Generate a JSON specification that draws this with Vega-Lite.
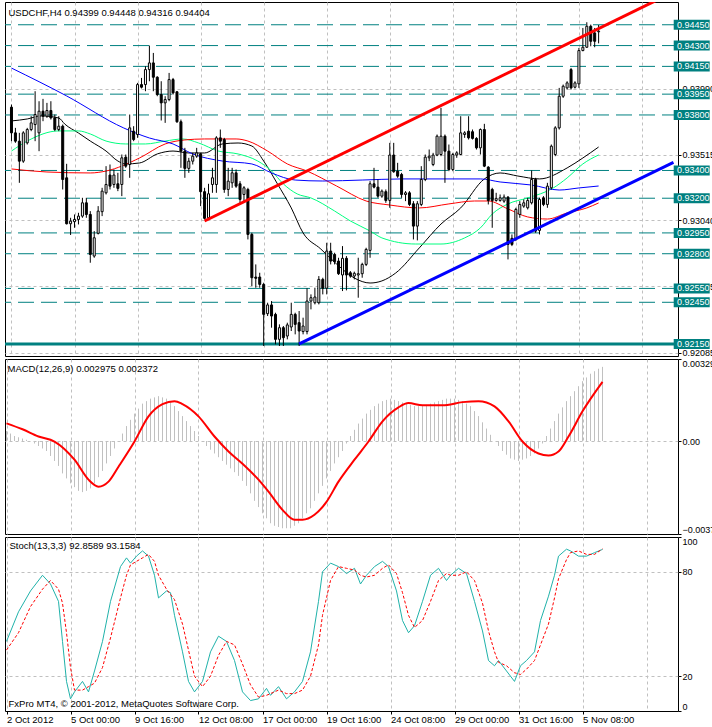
{
  "$schema": "https://vega.github.io/schema/vega-lite/v6.json",
  "padding": {"left": 2, "top": 1, "right": 0, "bottom": 0},
  "background": "white",
  "spacing": 3,
  "bounds": "flush",
  "config": {
    "font": "Liberation Sans",
    "view": {"stroke": "black", "strokeWidth": 1},
    "axis": {"labelFont": "Liberation Sans", "labelFontSize": 9, "labelColor": "black", "tickColor": "black", "domain": false, "gridColor": "#C0C0C0", "gridDash": [3, 3], "gridWidth": 1, "labelPadding": 1, "tickSize": 3},
    "title": {"font": "Liberation Sans", "fontSize": 9.5, "fontWeight": "normal", "color": "black", "anchor": "start", "offset": -15, "dx": 5}
  },
  "datasets": {
    "candles": [
      {"i":0,"o":0.93856,"h":0.93875,"l":0.93611,"c":0.93671},
      {"i":1,"o":0.93671,"h":0.93707,"l":0.93599,"c":0.93611},
      {"i":2,"o":0.93611,"h":0.93671,"l":0.93311,"c":0.93467},
      {"i":3,"o":0.93467,"h":0.93683,"l":0.93455,"c":0.93671},
      {"i":4,"o":0.93599,"h":0.93707,"l":0.93587,"c":0.93695},
      {"i":5,"o":0.93695,"h":0.93791,"l":0.93683,"c":0.93743},
      {"i":6,"o":0.93731,"h":0.93971,"l":0.93611,"c":0.93803},
      {"i":7,"o":0.93671,"h":0.93899,"l":0.93539,"c":0.93827},
      {"i":8,"o":0.93827,"h":0.93916,"l":0.93755,"c":0.93791},
      {"i":9,"o":0.93791,"h":0.93887,"l":0.93779,"c":0.93832},
      {"i":10,"o":0.93832,"h":0.93899,"l":0.93767,"c":0.93779},
      {"i":11,"o":0.93779,"h":0.93803,"l":0.93683,"c":0.93695},
      {"i":12,"o":0.93695,"h":0.93791,"l":0.93683,"c":0.93719},
      {"i":13,"o":0.93719,"h":0.93731,"l":0.93263,"c":0.93335},
      {"i":14,"o":0.93347,"h":0.93448,"l":0.93011,"c":0.93016},
      {"i":15,"o":0.93016,"h":0.93059,"l":0.92935,"c":0.93035},
      {"i":16,"o":0.93031,"h":0.93083,"l":0.92987,"c":0.93047},
      {"i":17,"o":0.93047,"h":0.93095,"l":0.93011,"c":0.93071},
      {"i":18,"o":0.93071,"h":0.93203,"l":0.93059,"c":0.93167},
      {"i":19,"o":0.93167,"h":0.93203,"l":0.93059,"c":0.93083},
      {"i":20,"o":0.93083,"h":0.93107,"l":0.92735,"c":0.92795},
      {"i":21,"o":0.92783,"h":0.92963,"l":0.92771,"c":0.92915},
      {"i":22,"o":0.92947,"h":0.93143,"l":0.92939,"c":0.93107},
      {"i":23,"o":0.93103,"h":0.93275,"l":0.93071,"c":0.93251},
      {"i":24,"o":0.93239,"h":0.93431,"l":0.93227,"c":0.93299},
      {"i":25,"o":0.93367,"h":0.93443,"l":0.93263,"c":0.93287},
      {"i":26,"o":0.93299,"h":0.93407,"l":0.93275,"c":0.93367},
      {"i":27,"o":0.93304,"h":0.93383,"l":0.93251,"c":0.93271},
      {"i":28,"o":0.93299,"h":0.93515,"l":0.93215,"c":0.93491},
      {"i":29,"o":0.93496,"h":0.93515,"l":0.93419,"c":0.93431},
      {"i":30,"o":0.93443,"h":0.93803,"l":0.93347,"c":0.93707},
      {"i":31,"o":0.93683,"h":0.93719,"l":0.93611,"c":0.93623},
      {"i":32,"o":0.93659,"h":0.94031,"l":0.93635,"c":0.94019},
      {"i":33,"o":0.94019,"h":0.94067,"l":0.93991,"c":0.94000},
      {"i":34,"o":0.94019,"h":0.94151,"l":0.93971,"c":0.94127},
      {"i":35,"o":0.94127,"h":0.94300,"l":0.94043,"c":0.94175},
      {"i":36,"o":0.94175,"h":0.94247,"l":0.93971,"c":0.94072},
      {"i":37,"o":0.94072,"h":0.94079,"l":0.93935,"c":0.93947},
      {"i":38,"o":0.93947,"h":0.94043,"l":0.93760,"c":0.93887},
      {"i":39,"o":0.93887,"h":0.93935,"l":0.93743,"c":0.93911},
      {"i":40,"o":0.93911,"h":0.94103,"l":0.93899,"c":0.94055},
      {"i":41,"o":0.94055,"h":0.94067,"l":0.93947,"c":0.93959},
      {"i":42,"o":0.93967,"h":0.93971,"l":0.93743,"c":0.93751},
      {"i":43,"o":0.93751,"h":0.93767,"l":0.93419,"c":0.93539},
      {"i":44,"o":0.93539,"h":0.93563,"l":0.93347,"c":0.93415},
      {"i":45,"o":0.93415,"h":0.93491,"l":0.93383,"c":0.93467},
      {"i":46,"o":0.93467,"h":0.93527,"l":0.93443,"c":0.93503},
      {"i":47,"o":0.93503,"h":0.93563,"l":0.93491,"c":0.93527},
      {"i":48,"o":0.93520,"h":0.93527,"l":0.93143,"c":0.93247},
      {"i":49,"o":0.93247,"h":0.93275,"l":0.93047,"c":0.93055},
      {"i":50,"o":0.93059,"h":0.93304,"l":0.93047,"c":0.93232},
      {"i":51,"o":0.93299,"h":0.93419,"l":0.93239,"c":0.93347},
      {"i":52,"o":0.93299,"h":0.93647,"l":0.93239,"c":0.93635},
      {"i":53,"o":0.93635,"h":0.93695,"l":0.93563,"c":0.93611},
      {"i":54,"o":0.93623,"h":0.93635,"l":0.93239,"c":0.93263},
      {"i":55,"o":0.93263,"h":0.93419,"l":0.93215,"c":0.93323},
      {"i":56,"o":0.93311,"h":0.93419,"l":0.93275,"c":0.93383},
      {"i":57,"o":0.93383,"h":0.93407,"l":0.93275,"c":0.93287},
      {"i":58,"o":0.93304,"h":0.93323,"l":0.93155,"c":0.93191},
      {"i":59,"o":0.93227,"h":0.93287,"l":0.93179,"c":0.93275},
      {"i":60,"o":0.93263,"h":0.93275,"l":0.92903,"c":0.92939},
      {"i":61,"o":0.92939,"h":0.92951,"l":0.92567,"c":0.92627},
      {"i":62,"o":0.92632,"h":0.92723,"l":0.92555,"c":0.92623},
      {"i":63,"o":0.92632,"h":0.92663,"l":0.92555,"c":0.92579},
      {"i":64,"o":0.92579,"h":0.92591,"l":0.92135,"c":0.92363},
      {"i":65,"o":0.92368,"h":0.92447,"l":0.92351,"c":0.92431},
      {"i":66,"o":0.92431,"h":0.92459,"l":0.92267,"c":0.92351},
      {"i":67,"o":0.92363,"h":0.92375,"l":0.92147,"c":0.92183},
      {"i":68,"o":0.92183,"h":0.92291,"l":0.92135,"c":0.92267},
      {"i":69,"o":0.92267,"h":0.92279,"l":0.92135,"c":0.92195},
      {"i":70,"o":0.92207,"h":0.92303,"l":0.92183,"c":0.92287},
      {"i":71,"o":0.92272,"h":0.92447,"l":0.92243,"c":0.92363},
      {"i":72,"o":0.92363,"h":0.92375,"l":0.92219,"c":0.92291},
      {"i":73,"o":0.92303,"h":0.92387,"l":0.92135,"c":0.92243},
      {"i":74,"o":0.92239,"h":0.92339,"l":0.92219,"c":0.92279},
      {"i":75,"o":0.92239,"h":0.92551,"l":0.92219,"c":0.92459},
      {"i":76,"o":0.92459,"h":0.92507,"l":0.92399,"c":0.92483},
      {"i":77,"o":0.92447,"h":0.92555,"l":0.92435,"c":0.92488},
      {"i":78,"o":0.92447,"h":0.92639,"l":0.92435,"c":0.92615},
      {"i":79,"o":0.92615,"h":0.92627,"l":0.92507,"c":0.92551},
      {"i":80,"o":0.92551,"h":0.92879,"l":0.92507,"c":0.92819},
      {"i":81,"o":0.92819,"h":0.92879,"l":0.92723,"c":0.92747},
      {"i":82,"o":0.92795,"h":0.92807,"l":0.92723,"c":0.92743},
      {"i":83,"o":0.92747,"h":0.92771,"l":0.92647,"c":0.92656},
      {"i":84,"o":0.92647,"h":0.92855,"l":0.92531,"c":0.92767},
      {"i":85,"o":0.92767,"h":0.92783,"l":0.92536,"c":0.92647},
      {"i":86,"o":0.92663,"h":0.92675,"l":0.92627,"c":0.92639},
      {"i":87,"o":0.92639,"h":0.92671,"l":0.92615,"c":0.92659},
      {"i":88,"o":0.92647,"h":0.92771,"l":0.92483,"c":0.92656},
      {"i":89,"o":0.92656,"h":0.92735,"l":0.92627,"c":0.92723},
      {"i":90,"o":0.92723,"h":0.92843,"l":0.92711,"c":0.92831},
      {"i":91,"o":0.92824,"h":0.93323,"l":0.92771,"c":0.93304},
      {"i":92,"o":0.93304,"h":0.93419,"l":0.93271,"c":0.93280},
      {"i":93,"o":0.93280,"h":0.93335,"l":0.93203,"c":0.93215},
      {"i":94,"o":0.93215,"h":0.93263,"l":0.93203,"c":0.93251},
      {"i":95,"o":0.93247,"h":0.93263,"l":0.93167,"c":0.93184},
      {"i":96,"o":0.93184,"h":0.93599,"l":0.93131,"c":0.93511},
      {"i":97,"o":0.93511,"h":0.93599,"l":0.93383,"c":0.93391},
      {"i":98,"o":0.93395,"h":0.93455,"l":0.93347,"c":0.93359},
      {"i":99,"o":0.93371,"h":0.93383,"l":0.93203,"c":0.93227},
      {"i":100,"o":0.93227,"h":0.93251,"l":0.93179,"c":0.93239},
      {"i":101,"o":0.93239,"h":0.93251,"l":0.93143,"c":0.93155},
      {"i":102,"o":0.93160,"h":0.93179,"l":0.92903,"c":0.92999},
      {"i":103,"o":0.92999,"h":0.93179,"l":0.92896,"c":0.93160},
      {"i":104,"o":0.93155,"h":0.93431,"l":0.93143,"c":0.93335},
      {"i":105,"o":0.93335,"h":0.93515,"l":0.93323,"c":0.93496},
      {"i":106,"o":0.93491,"h":0.93551,"l":0.93467,"c":0.93503},
      {"i":107,"o":0.93443,"h":0.93527,"l":0.93431,"c":0.93511},
      {"i":108,"o":0.93511,"h":0.93659,"l":0.93503,"c":0.93647},
      {"i":109,"o":0.93515,"h":0.93851,"l":0.93503,"c":0.93647},
      {"i":110,"o":0.93647,"h":0.93659,"l":0.93311,"c":0.93539},
      {"i":111,"o":0.93539,"h":0.93587,"l":0.93395,"c":0.93407},
      {"i":112,"o":0.93407,"h":0.93527,"l":0.93395,"c":0.93515},
      {"i":113,"o":0.93511,"h":0.93539,"l":0.93491,"c":0.93527},
      {"i":114,"o":0.93515,"h":0.93791,"l":0.93511,"c":0.93671},
      {"i":115,"o":0.93659,"h":0.93683,"l":0.93635,"c":0.93671},
      {"i":116,"o":0.93683,"h":0.93791,"l":0.93623,"c":0.93635},
      {"i":117,"o":0.93679,"h":0.93695,"l":0.93623,"c":0.93631},
      {"i":118,"o":0.93631,"h":0.93640,"l":0.93551,"c":0.93563},
      {"i":119,"o":0.93563,"h":0.93703,"l":0.93515,"c":0.93695},
      {"i":120,"o":0.93695,"h":0.93736,"l":0.93424,"c":0.93431},
      {"i":121,"o":0.93424,"h":0.93431,"l":0.93155,"c":0.93184},
      {"i":122,"o":0.93263,"h":0.93275,"l":0.92987,"c":0.93184},
      {"i":123,"o":0.93184,"h":0.93239,"l":0.93175,"c":0.93199},
      {"i":124,"o":0.93184,"h":0.93227,"l":0.93175,"c":0.93203},
      {"i":125,"o":0.93179,"h":0.93227,"l":0.93167,"c":0.93208},
      {"i":126,"o":0.93208,"h":0.93215,"l":0.92759,"c":0.92867},
      {"i":127,"o":0.92911,"h":0.92939,"l":0.92855,"c":0.92867},
      {"i":128,"o":0.92903,"h":0.93131,"l":0.92891,"c":0.93119},
      {"i":129,"o":0.93083,"h":0.93179,"l":0.93059,"c":0.93155},
      {"i":130,"o":0.93143,"h":0.93191,"l":0.93131,"c":0.93167},
      {"i":131,"o":0.93131,"h":0.93203,"l":0.93119,"c":0.93184},
      {"i":132,"o":0.93167,"h":0.93400,"l":0.93155,"c":0.93335},
      {"i":133,"o":0.93335,"h":0.93347,"l":0.92951,"c":0.92963},
      {"i":134,"o":0.92968,"h":0.93203,"l":0.92939,"c":0.93191},
      {"i":135,"o":0.93203,"h":0.93215,"l":0.93143,"c":0.93155},
      {"i":136,"o":0.93155,"h":0.93311,"l":0.93131,"c":0.93287},
      {"i":137,"o":0.93275,"h":0.93587,"l":0.93263,"c":0.93575},
      {"i":138,"o":0.93515,"h":0.93719,"l":0.93503,"c":0.93707},
      {"i":139,"o":0.93707,"h":0.93995,"l":0.93695,"c":0.93935},
      {"i":140,"o":0.93935,"h":0.94019,"l":0.93923,"c":0.94007},
      {"i":141,"o":0.93995,"h":0.94043,"l":0.93983,"c":0.94031},
      {"i":142,"o":0.94127,"h":0.94139,"l":0.93983,"c":0.93995},
      {"i":143,"o":0.94000,"h":0.94043,"l":0.93991,"c":0.94031},
      {"i":144,"o":0.94024,"h":0.94283,"l":0.93995,"c":0.94264},
      {"i":145,"o":0.94264,"h":0.94427,"l":0.94259,"c":0.94288},
      {"i":146,"o":0.94288,"h":0.94468,"l":0.94283,"c":0.94439},
      {"i":147,"o":0.94439,"h":0.94451,"l":0.94295,"c":0.94331},
      {"i":148,"o":0.94391,"h":0.94427,"l":0.94288,"c":0.94331},
      {"i":149,"o":0.94399,"h":0.94448,"l":0.94316,"c":0.94404}
    ],
    "ma": [
      {"ma":"fast","i":0,"v":0.93757},{"ma":"fast","i":4,"v":0.93771},{"ma":"fast","i":7.5,"v":0.93793},{"ma":"fast","i":12,"v":0.93778},{"ma":"fast","i":13.5,"v":0.93735},{"ma":"fast","i":17,"v":0.9367},{"ma":"fast","i":20,"v":0.93612},{"ma":"fast","i":24,"v":0.9354},{"ma":"fast","i":27,"v":0.93468},{"ma":"fast","i":29,"v":0.93447},{"ma":"fast","i":32.5,"v":0.93454},{"ma":"fast","i":37,"v":0.93519},{"ma":"fast","i":41,"v":0.9354},{"ma":"fast","i":45,"v":0.93526},{"ma":"fast","i":49,"v":0.93526},{"ma":"fast","i":53.5,"v":0.93591},{"ma":"fast","i":57.5,"v":0.93598},{"ma":"fast","i":61,"v":0.93576},{"ma":"fast","i":64,"v":0.93468},{"ma":"fast","i":67.5,"v":0.93303},{"ma":"fast","i":71,"v":0.9313},{"ma":"fast","i":74,"v":0.9295},{"ma":"fast","i":78.5,"v":0.92834},{"ma":"fast","i":82.5,"v":0.92726},{"ma":"fast","i":87,"v":0.92625},{"ma":"fast","i":91,"v":0.92589},{"ma":"fast","i":94,"v":0.92604},{"ma":"fast","i":97.5,"v":0.92661},{"ma":"fast","i":103.5,"v":0.92842},{"ma":"fast","i":109,"v":0.93014},{"ma":"fast","i":114,"v":0.9313},{"ma":"fast","i":120,"v":0.93339},{"ma":"fast","i":124,"v":0.93382},{"ma":"fast","i":128.5,"v":0.9336},{"ma":"fast","i":134,"v":0.93339},{"ma":"fast","i":141,"v":0.93418},{"ma":"fast","i":145,"v":0.9349},{"ma":"fast","i":149,"v":0.93569},
      {"ma":"mid","i":0,"v":0.9354},{"ma":"mid","i":4,"v":0.93612},{"ma":"mid","i":12,"v":0.93685},{"ma":"mid","i":17,"v":0.93685},{"ma":"mid","i":20,"v":0.93663},{"ma":"mid","i":24,"v":0.93612},{"ma":"mid","i":29,"v":0.93591},{"ma":"mid","i":34,"v":0.93591},{"ma":"mid","i":39,"v":0.93612},{"ma":"mid","i":43.5,"v":0.93627},{"ma":"mid","i":47.5,"v":0.93598},{"ma":"mid","i":52.5,"v":0.9354},{"ma":"mid","i":57.5,"v":0.93519},{"ma":"mid","i":62.5,"v":0.93468},{"ma":"mid","i":66,"v":0.93396},{"ma":"mid","i":69,"v":0.93303},{"ma":"mid","i":72.5,"v":0.93231},{"ma":"mid","i":76,"v":0.93202},{"ma":"mid","i":82,"v":0.93108},{"ma":"mid","i":86,"v":0.93036},{"ma":"mid","i":91,"v":0.92964},{"ma":"mid","i":94,"v":0.92914},{"ma":"mid","i":102.5,"v":0.9287},{"ma":"mid","i":109,"v":0.9287},{"ma":"mid","i":115,"v":0.92914},{"ma":"mid","i":119,"v":0.92986},{"ma":"mid","i":122,"v":0.93086},{"ma":"mid","i":126,"v":0.93159},{"ma":"mid","i":131,"v":0.93202},{"ma":"mid","i":137.5,"v":0.93274},{"ma":"mid","i":141,"v":0.93346},{"ma":"mid","i":145,"v":0.93447},{"ma":"mid","i":149,"v":0.93512},
      {"ma":"slow","i":0,"v":0.93411},{"ma":"slow","i":9,"v":0.93389},{"ma":"slow","i":20,"v":0.93382},{"ma":"slow","i":24,"v":0.93396},{"ma":"slow","i":32.5,"v":0.9349},{"ma":"slow","i":39,"v":0.93591},{"ma":"slow","i":44,"v":0.9362},{"ma":"slow","i":49,"v":0.93627},{"ma":"slow","i":57,"v":0.93627},{"ma":"slow","i":60,"v":0.93612},{"ma":"slow","i":65,"v":0.9354},{"ma":"slow","i":70,"v":0.93447},{"ma":"slow","i":75,"v":0.93396},{"ma":"slow","i":82.5,"v":0.93288},{"ma":"slow","i":90,"v":0.9318},{"ma":"slow","i":96,"v":0.93151},{"ma":"slow","i":103.5,"v":0.9313},{"ma":"slow","i":111,"v":0.93159},{"ma":"slow","i":117.5,"v":0.9318},{"ma":"slow","i":121,"v":0.9318},{"ma":"slow","i":126,"v":0.93123},{"ma":"slow","i":131,"v":0.93065},{"ma":"slow","i":136,"v":0.9305},{"ma":"slow","i":141,"v":0.93094},{"ma":"slow","i":146,"v":0.9313},{"ma":"slow","i":149,"v":0.93166},
      {"ma":"long","i":0,"v":0.94138},{"ma":"long","i":14,"v":0.93937},{"ma":"long","i":28.5,"v":0.93706},{"ma":"long","i":35,"v":0.93634},{"ma":"long","i":41,"v":0.93591},{"ma":"long","i":46,"v":0.93519},{"ma":"long","i":53.5,"v":0.93468},{"ma":"long","i":61,"v":0.93447},{"ma":"long","i":66,"v":0.93382},{"ma":"long","i":72,"v":0.93331},{"ma":"long","i":79,"v":0.93324},{"ma":"long","i":89,"v":0.93331},{"ma":"long","i":99,"v":0.93339},{"ma":"long","i":109,"v":0.93339},{"ma":"long","i":119,"v":0.93339},{"ma":"long","i":124,"v":0.93317},{"ma":"long","i":132,"v":0.93295},{"ma":"long","i":139,"v":0.93259},{"ma":"long","i":144,"v":0.93274},{"ma":"long","i":149,"v":0.93288}
    ],
    "trend": [
      {"t":"resistance","i":49,"p":0.93036},{"t":"resistance","i":168,"p":0.94686},
      {"t":"support","i":73,"p":0.9215},{"t":"support","i":168,"p":0.93458}
    ],
    "levels": [
      {"p":0.9445},{"p":0.943},{"p":0.9415},{"p":0.9395},{"p":0.938},{"p":0.934},{"p":0.932},{"p":0.9295},{"p":0.928},{"p":0.9255},{"p":0.9245},{"p":0.9215}
    ],
    "macd": [
      {"i":0,"m":0.0004},{"i":1,"m":0.0003},{"i":2,"m":0.0002},{"i":3,"m":0.00015},{"i":4,"m":0.0001},{"i":5,"m":0.00005},{"i":6,"m":0.0},{"i":7,"m":-0.0001},{"i":8,"m":-0.0002},{"i":9,"m":-0.0003},
      {"i":10,"m":-0.0004},{"i":11,"m":-0.0006},{"i":12,"m":-0.0008},{"i":13,"m":-0.001},{"i":14,"m":-0.0013},{"i":15,"m":-0.0015},{"i":16,"m":-0.0017},{"i":17,"m":-0.00185},{"i":18,"m":-0.002},{"i":19,"m":-0.00205},
      {"i":20,"m":-0.002},{"i":21,"m":-0.0019},{"i":22,"m":-0.0017},{"i":23,"m":-0.00145},{"i":24,"m":-0.0012},{"i":25,"m":-0.0009},{"i":26,"m":-0.0006},{"i":27,"m":-0.0003},{"i":28,"m":0.0},{"i":29,"m":0.0003},
      {"i":30,"m":0.0006},{"i":31,"m":0.00085},{"i":32,"m":0.0011},{"i":33,"m":0.0013},{"i":34,"m":0.0015},{"i":35,"m":0.0016},{"i":36,"m":0.0017},{"i":37,"m":0.00175},{"i":38,"m":0.0018},{"i":39,"m":0.00175},
      {"i":40,"m":0.0017},{"i":41,"m":0.00155},{"i":42,"m":0.0014},{"i":43,"m":0.0012},{"i":44,"m":0.001},{"i":45,"m":0.0008},{"i":46,"m":0.0006},{"i":47,"m":0.0004},{"i":48,"m":0.0002},{"i":49,"m":0.0},
      {"i":50,"m":-0.0002},{"i":51,"m":-0.00035},{"i":52,"m":-0.0005},{"i":53,"m":-0.00065},{"i":54,"m":-0.0008},{"i":55,"m":-0.00095},{"i":56,"m":-0.0011},{"i":57,"m":-0.00125},{"i":58,"m":-0.0014},{"i":59,"m":-0.0016},
      {"i":60,"m":-0.0018},{"i":61,"m":-0.0021},{"i":62,"m":-0.0024},{"i":63,"m":-0.00265},{"i":64,"m":-0.0029},{"i":65,"m":-0.0031},{"i":66,"m":-0.0033},{"i":67,"m":-0.0034},{"i":68,"m":-0.00345},{"i":69,"m":-0.0035},
      {"i":70,"m":-0.0035},{"i":71,"m":-0.0035},{"i":72,"m":-0.0034},{"i":73,"m":-0.0033},{"i":74,"m":-0.0031},{"i":75,"m":-0.0029},{"i":76,"m":-0.0027},{"i":77,"m":-0.0024},{"i":78,"m":-0.0021},{"i":79,"m":-0.0018},
      {"i":80,"m":-0.0015},{"i":81,"m":-0.0012},{"i":82,"m":-0.0009},{"i":83,"m":-0.00065},{"i":84,"m":-0.0004},{"i":85,"m":-0.0001},{"i":86,"m":0.0002},{"i":87,"m":0.00045},{"i":88,"m":0.0007},{"i":89,"m":0.0009},
      {"i":90,"m":0.0011},{"i":91,"m":0.00125},{"i":92,"m":0.0014},{"i":93,"m":0.0015},{"i":94,"m":0.0016},{"i":95,"m":0.00165},{"i":96,"m":0.0017},{"i":97,"m":0.00165},{"i":98,"m":0.0016},{"i":99,"m":0.00155},
      {"i":100,"m":0.0015},{"i":101,"m":0.00145},{"i":102,"m":0.0014},{"i":103,"m":0.0014},{"i":104,"m":0.0014},{"i":105,"m":0.00145},{"i":106,"m":0.0015},{"i":107,"m":0.00155},{"i":108,"m":0.0016},{"i":109,"m":0.00165},
      {"i":110,"m":0.0017},{"i":111,"m":0.0017},{"i":112,"m":0.0017},{"i":113,"m":0.00165},{"i":114,"m":0.0016},{"i":115,"m":0.0015},{"i":116,"m":0.0014},{"i":117,"m":0.0012},{"i":118,"m":0.001},{"i":119,"m":0.00075},
      {"i":120,"m":0.0005},{"i":121,"m":0.00025},{"i":122,"m":0.0},{"i":123,"m":-0.0002},{"i":124,"m":-0.0004},{"i":125,"m":-0.00055},{"i":126,"m":-0.0007},{"i":127,"m":-0.00075},{"i":128,"m":-0.0008},{"i":129,"m":-0.00075},
      {"i":130,"m":-0.0007},{"i":131,"m":-0.0006},{"i":132,"m":-0.0005},{"i":133,"m":-0.0003},{"i":134,"m":-0.0001},{"i":135,"m":0.0002},{"i":136,"m":0.0005},{"i":137,"m":0.0008},{"i":138,"m":0.0011},{"i":139,"m":0.00135},
      {"i":140,"m":0.0016},{"i":141,"m":0.0018},{"i":142,"m":0.002},{"i":143,"m":0.0022},{"i":144,"m":0.0024},{"i":145,"m":0.00255},{"i":146,"m":0.0027},{"i":147,"m":0.0028},{"i":148,"m":0.0029},{"i":149,"m":0.002975}
    ],
    "macdsig": [
      {"i":0,"s":0.00071},{"i":4,"s":0.00047},{"i":8,"s":0.00018},{"i":12,"s":-0.00002},{"i":17,"s":-0.00075},{"i":20.5,"s":-0.00155},{"i":23,"s":-0.00183},{"i":25.5,"s":-0.00163},{"i":28,"s":-0.00103},{"i":32,"s":-0.00002},{"i":35.5,"s":0.00099},{"i":39,"s":0.00148},{"i":42,"s":0.0016},{"i":44,"s":0.00148},{"i":48,"s":0.00099},{"i":52,"s":0.00018},{"i":55.5,"s":-0.00042},{"i":59,"s":-0.00091},{"i":63,"s":-0.00155},{"i":65.5,"s":-0.00203},{"i":69,"s":-0.00276},{"i":72,"s":-0.00316},{"i":74,"s":-0.00316},{"i":77,"s":-0.00296},{"i":80,"s":-0.00244},{"i":83,"s":-0.00163},{"i":87,"s":-0.00075},{"i":90.5,"s":-0.00002},{"i":94,"s":0.00079},{"i":98,"s":0.00135},{"i":100.5,"s":0.00152},{"i":104,"s":0.00143},{"i":109,"s":0.00143},{"i":114,"s":0.00156},{"i":118,"s":0.0016},{"i":122,"s":0.00139},{"i":125.5,"s":0.00079},{"i":129,"s":-0.00002},{"i":133,"s":-0.0005},{"i":135.5,"s":-0.00058},{"i":138,"s":-0.00042},{"i":140.5,"s":0.00018},{"i":144,"s":0.00119},{"i":149,"s":0.002372}
    ],
    "stoch": [
      {"i":0,"k":40,"d":35},{"i":3,"k":57,"d":45},{"i":6,"k":69,"d":60},{"i":9,"k":78,"d":70},{"i":11,"k":73,"d":75},{"i":13,"k":63,"d":70},{"i":14,"k":40,"d":62},{"i":15,"k":17,"d":45},{"i":16,"k":7,"d":25},{"i":17,"k":11,"d":12},{"i":19,"k":17,"d":12},{"i":20.5,"k":11,"d":14},{"i":22,"k":23,"d":16},{"i":24,"k":40,"d":25},{"i":26,"k":63,"d":42},{"i":28.5,"k":83,"d":65},{"i":30,"k":88,"d":78},{"i":31,"k":85,"d":84},{"i":32.5,"k":89,"d":86},{"i":34,"k":92,"d":88},{"i":35.5,"k":89,"d":90},{"i":37,"k":78,"d":86},{"i":38,"k":65,"d":78},{"i":40,"k":69,"d":70},{"i":41,"k":68,"d":67},{"i":42,"k":55,"d":64},{"i":44,"k":34,"d":50},{"i":45.5,"k":17,"d":35},{"i":47,"k":11,"d":20},{"i":49,"k":17,"d":14},{"i":51,"k":34,"d":20},{"i":53,"k":43,"d":32},{"i":55,"k":40,"d":40},{"i":57,"k":29,"d":38},{"i":59,"k":11,"d":27},{"i":61,"k":6,"d":15},{"i":63,"k":7,"d":8},{"i":65,"k":13,"d":9},{"i":66,"k":9,"d":10},{"i":68,"k":14,"d":12},{"i":70,"k":7,"d":10},{"i":72,"k":11,"d":10},{"i":74,"k":17,"d":12},{"i":76,"k":34,"d":20},{"i":78,"k":63,"d":38},{"i":79,"k":80,"d":55},{"i":81,"k":85,"d":75},{"i":83,"k":83,"d":83},{"i":85,"k":79,"d":82},{"i":87,"k":82,"d":81},{"i":88.5,"k":73,"d":78},{"i":90,"k":78,"d":77},{"i":92,"k":83,"d":78},{"i":94,"k":86,"d":82},{"i":95.5,"k":83,"d":84},{"i":97.5,"k":69,"d":79},{"i":99,"k":52,"d":68},{"i":100.5,"k":45,"d":55},{"i":102,"k":49,"d":48},{"i":104,"k":63,"d":52},{"i":106,"k":78,"d":63},{"i":108,"k":82,"d":75},{"i":110,"k":75,"d":79},{"i":111,"k":78,"d":78},{"i":113,"k":82,"d":78},{"i":115,"k":79,"d":80},{"i":117,"k":63,"d":75},{"i":119,"k":46,"d":62},{"i":120.5,"k":29,"d":46},{"i":122,"k":26,"d":34},{"i":123,"k":29,"d":28},{"i":125,"k":23,"d":26},{"i":127,"k":17,"d":22},{"i":128.5,"k":26,"d":21},{"i":130,"k":29,"d":24},{"i":132,"k":34,"d":29},{"i":133.5,"k":52,"d":38},{"i":135.5,"k":66,"d":50},{"i":137,"k":78,"d":65},{"i":138,"k":89,"d":76},{"i":140,"k":93,"d":87},{"i":141,"k":92,"d":91},{"i":143,"k":89,"d":92},{"i":145,"k":89,"d":90},{"i":147,"k":91,"d":90},{"i":149,"k":92.8589,"d":93.1584}
    ]
  },
  "vconcat": [
    {
      "width": 673, "height": 354,
      "title": {"text": "USDCHF,H4  0.94399 0.94448 0.94316 0.94404"},
      "layer": [
        {
          "data": {"name": "levels"},
          "transform": [{"filter": "datum.p > 0.922"}],
          "mark": {"type": "rule", "color": "#008080", "strokeDash": [16, 7], "strokeWidth": 1},
          "encoding": {
            "y": {"field": "p", "type": "quantitative", "scale": {"domain": [0.92063, 0.94614], "nice": false, "zero": false},
                  "axis": {"orient": "right", "title": null, "values": [0.92085, 0.92325, 0.92565, 0.928, 0.9304, 0.93275, 0.93515, 0.9375, 0.9399, 0.9423], "format": ".5f", "grid": true, "labelOverlap": false, "labelBound": false, "labelFlush": false}}
          }
        },
        {
          "data": {"name": "levels"},
          "transform": [{"filter": "datum.p < 0.922"}],
          "mark": {"type": "rule", "color": "#008080", "strokeWidth": 3},
          "encoding": {"y": {"field": "p", "type": "quantitative", "scale": {"domain": [0.92063, 0.94614], "nice": false, "zero": false}}}
        },
        {
          "mark": {"type": "rule", "color": "#C0C0C0", "strokeWidth": 1},
          "encoding": {"y": {"datum": 0.94404, "type": "quantitative", "scale": {"domain": [0.92063, 0.94614], "nice": false, "zero": false}}}
        },
        {
          "data": {"name": "ma"},
          "mark": {"type": "line", "strokeWidth": 1, "interpolate": "monotone", "clip": true},
          "encoding": {
            "x": {"field": "i", "type": "quantitative", "scale": {"domain": [-0.375, 167.875], "nice": false, "zero": false}},
            "y": {"field": "v", "type": "quantitative", "scale": {"domain": [0.92063, 0.94614], "nice": false, "zero": false}},
            "color": {"field": "ma", "type": "nominal", "legend": null, "scale": {"domain": ["long", "slow", "mid", "fast", "resistance", "support"], "range": ["#0000FF", "#FF0000", "#00FF7F", "#000000", "#FF0000", "#0000FF"]}}
          }
        },
        {
          "data": {"name": "candles"},
          "mark": {"type": "rule", "color": "black", "strokeWidth": 1},
          "encoding": {
            "x": {"field": "i", "type": "quantitative", "scale": {"domain": [-0.375, 167.875], "nice": false, "zero": false},
                  "axis": {"title": null, "values": [0, 8, 16, 24, 32, 40, 48, 56, 64, 72, 80, 88, 96, 104, 112, 120, 128, 136, 144, 152, 160], "labels": false, "ticks": false, "grid": true}},
            "y": {"field": "l", "type": "quantitative", "scale": {"domain": [0.92063, 0.94614], "nice": false, "zero": false}},
            "y2": {"field": "h"}
          }
        },
        {
          "data": {"name": "candles"},
          "mark": {"type": "bar", "size": 2, "stroke": "black", "strokeWidth": 1},
          "encoding": {
            "x": {"field": "i", "type": "quantitative", "scale": {"domain": [-0.375, 167.875], "nice": false, "zero": false}},
            "y": {"field": "o", "type": "quantitative", "scale": {"domain": [0.92063, 0.94614], "nice": false, "zero": false}},
            "y2": {"field": "c"},
            "fill": {"condition": {"test": "datum.c >= datum.o", "value": "white"}, "value": "black"}
          }
        },
        {
          "data": {"name": "trend"},
          "mark": {"type": "line", "strokeWidth": 3, "clip": true},
          "encoding": {
            "x": {"field": "i", "type": "quantitative", "scale": {"domain": [-0.375, 167.875], "nice": false, "zero": false}},
            "y": {"field": "p", "type": "quantitative", "scale": {"domain": [0.92063, 0.94614], "nice": false, "zero": false}},
            "color": {"field": "t", "type": "nominal", "legend": null, "scale": {"domain": ["long", "slow", "mid", "fast", "resistance", "support"], "range": ["#0000FF", "#FF0000", "#00FF7F", "#000000", "#FF0000", "#0000FF"]}}
          }
        },
        {
          "mark": {"type": "tick", "orient": "horizontal", "color": "black", "size": 36, "thickness": 10, "opacity": 1},
          "encoding": {
            "x": {"datum": 172.625, "type": "quantitative", "scale": {"domain": [-0.375, 167.875], "nice": false, "zero": false}},
            "y": {"datum": 0.94404, "type": "quantitative", "scale": {"domain": [0.92063, 0.94614], "nice": false, "zero": false}}
          }
        },
        {
          "mark": {"type": "text", "align": "left", "baseline": "middle", "color": "white", "fontSize": 9, "font": "Liberation Sans"},
          "encoding": {
            "x": {"datum": 168.875, "type": "quantitative", "scale": {"domain": [-0.375, 167.875], "nice": false, "zero": false}},
            "y": {"datum": 0.94404, "type": "quantitative", "scale": {"domain": [0.92063, 0.94614], "nice": false, "zero": false}},
            "text": {"value": "0.94404"}
          }
        },
        {
          "data": {"name": "levels"},
          "mark": {"type": "tick", "orient": "horizontal", "color": "#008080", "size": 36, "thickness": 10, "opacity": 1},
          "encoding": {
            "x": {"datum": 172.625, "type": "quantitative", "scale": {"domain": [-0.375, 167.875], "nice": false, "zero": false}},
            "y": {"field": "p", "type": "quantitative", "scale": {"domain": [0.92063, 0.94614], "nice": false, "zero": false}}
          }
        },
        {
          "data": {"name": "levels"},
          "mark": {"type": "text", "align": "left", "baseline": "middle", "color": "white", "fontSize": 9, "font": "Liberation Sans"},
          "encoding": {
            "x": {"datum": 168.875, "type": "quantitative", "scale": {"domain": [-0.375, 167.875], "nice": false, "zero": false}},
            "y": {"field": "p", "type": "quantitative", "scale": {"domain": [0.92063, 0.94614], "nice": false, "zero": false}},
            "text": {"field": "p", "type": "quantitative", "format": ".5f"}
          }
        }
      ]
    },
    {
      "width": 673, "height": 175,
      "title": {"text": "MACD(12,26,9) 0.002975 0.002372"},
      "layer": [
        {
          "data": {"name": "macd"},
          "mark": {"type": "rule", "color": "#C0C0C0", "strokeWidth": 1},
          "encoding": {
            "x": {"field": "i", "type": "quantitative", "scale": {"domain": [-0.375, 167.875], "nice": false, "zero": false},
                  "axis": {"title": null, "values": [0, 8, 16, 24, 32, 40, 48, 56, 64, 72, 80, 88, 96, 104, 112, 120, 128, 136, 144, 152, 160], "labels": false, "ticks": false, "grid": true}},
            "y": {"field": "m", "type": "quantitative", "scale": {"domain": [-0.00373, 0.00329], "nice": false, "zero": false},
                  "axis": {"orient": "right", "title": null, "values": [-0.00373, 0, 0.00329], "labelExpr": "datum.value === 0 ? '0.00' : format(datum.value, '.5f')", "labelFlush": true, "labelOverlap": false, "grid": true, "gridOpacity": {"condition": {"test": "datum.value === 0", "value": 1}, "value": 0}}},
            "y2": {"datum": 0}
          }
        },
        {
          "data": {"name": "macdsig"},
          "mark": {"type": "line", "color": "#FF0000", "strokeWidth": 2, "interpolate": "monotone"},
          "encoding": {
            "x": {"field": "i", "type": "quantitative", "scale": {"domain": [-0.375, 167.875], "nice": false, "zero": false}},
            "y": {"field": "s", "type": "quantitative", "scale": {"domain": [-0.00373, 0.00329], "nice": false, "zero": false}}
          }
        }
      ]
    },
    {
      "width": 673, "height": 174,
      "title": {"text": "Stoch(13,3,3) 92.8589 93.1584", "offset": -14},
      "layer": [
        {
          "data": {"name": "stoch"},
          "mark": {"type": "line", "color": "#20B2AA", "strokeWidth": 1},
          "encoding": {
            "x": {"field": "i", "type": "quantitative", "scale": {"domain": [-0.375, 167.875], "nice": false, "zero": false},
                  "axis": {"title": "FxPro MT4, © 2001-2012, MetaQuotes Software Corp.", "titleX": 3, "titleY": -8, "titleAlign": "left", "titleAnchor": "start", "titleBaseline": "middle", "titleFont": "Liberation Sans", "titleFontSize": 9.5, "titleFontWeight": "normal", "titleColor": "black",
                           "values": [0, 8, 16, 24, 32, 40, 48, 56, 64, 72, 80, 88, 96, 104, 112, 120, 128, 136, 144, 152, 160], "grid": true, "labelAlign": "left", "labelBaseline": "top", "labelPadding": 0, "labelFontSize": 9.5, "labelFlush": false, "labelOverlap": false, "labelBound": false, "tickSize": 3,
                           "tickColor": {"condition": {"test": "datum.value % 16 === 0 && datum.value <= 144", "value": "black"}, "value": "transparent"},
                           "labelExpr": "datum.value % 16 === 0 && datum.value <= 144 ? ['2 Oct 2012','5 Oct 00:00','9 Oct 16:00','12 Oct 08:00','17 Oct 00:00','19 Oct 16:00','24 Oct 08:00','29 Oct 00:00','31 Oct 16:00','5 Nov 08:00'][datum.value / 16] : ''"}},
            "y": {"field": "k", "type": "quantitative", "scale": {"domain": [0, 100], "nice": false, "zero": false},
                  "axis": {"orient": "right", "title": null, "values": [0, 20, 80, 100], "labelFlush": true, "labelOverlap": false, "grid": true, "gridOpacity": {"condition": {"test": "datum.value === 20 || datum.value === 80", "value": 1}, "value": 0}}}
          }
        },
        {
          "data": {"name": "stoch"},
          "mark": {"type": "line", "color": "#FF0000", "strokeWidth": 1, "strokeDash": [3, 2]},
          "encoding": {
            "x": {"field": "i", "type": "quantitative", "scale": {"domain": [-0.375, 167.875], "nice": false, "zero": false}},
            "y": {"field": "d", "type": "quantitative", "scale": {"domain": [0, 100], "nice": false, "zero": false}}
          }
        }
      ]
    }
  ]
}
